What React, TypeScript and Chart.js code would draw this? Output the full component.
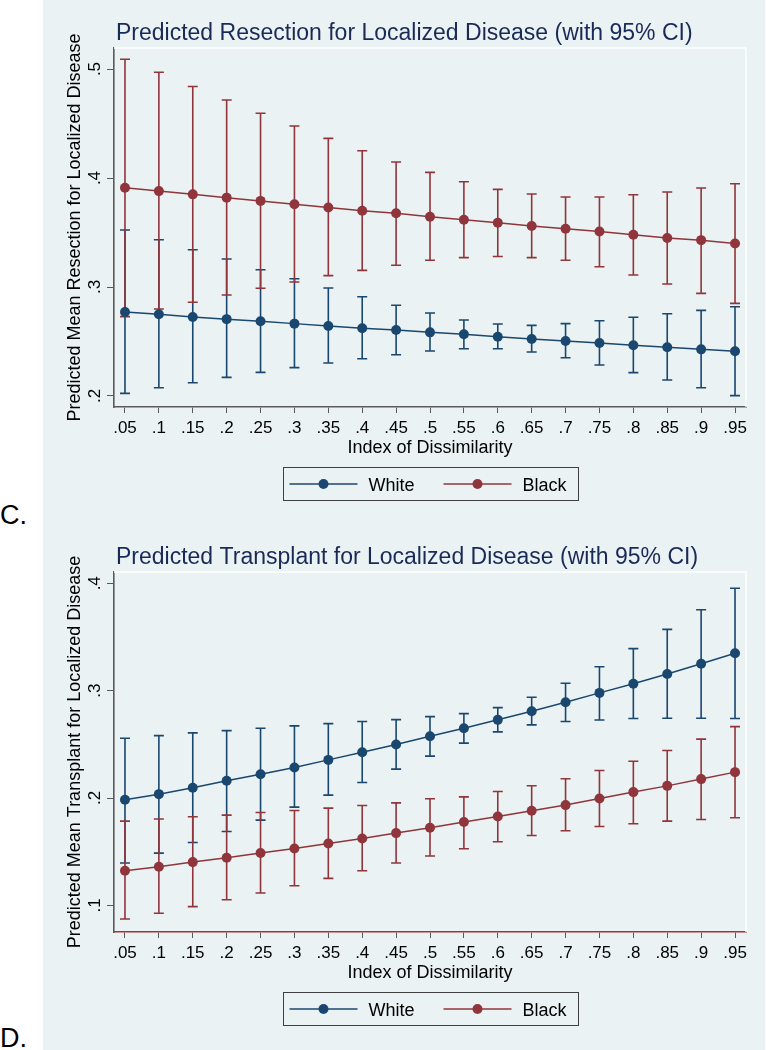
import React, { useEffect, useRef } from "react";
import { Chart, registerables } from "chart.js";

Chart.register(...registerables);

// ---------- shared axis data ----------
const xValues = [0.05, 0.1, 0.15, 0.2, 0.25, 0.3, 0.35, 0.4, 0.45, 0.5, 0.55, 0.6, 0.65, 0.7, 0.75, 0.8, 0.85, 0.9, 0.95];
const xTickLabels = [".05", ".1", ".15", ".2", ".25", ".3", ".35", ".4", ".45", ".5", ".55", ".6", ".65", ".7", ".75", ".8", ".85", ".9", ".95"];
const seriesNames = ["White", "Black"];

// ---------- Panel C: Resection ----------
const resYTicks = [0.2, 0.3, 0.4, 0.5];
const resYTickLabels = [".2", ".3", ".4", ".5"];
const resWhiteMean = [0.277, 0.275, 0.2725, 0.2705, 0.2686, 0.2664, 0.2642, 0.2621, 0.2606, 0.2584, 0.2566, 0.2544, 0.2523, 0.2505, 0.2486, 0.2465, 0.2447, 0.2428, 0.241];
const resWhiteLo = [0.2024, 0.2076, 0.2122, 0.2171, 0.2217, 0.226, 0.2303, 0.2342, 0.2379, 0.2413, 0.2434, 0.2434, 0.2404, 0.2351, 0.2284, 0.2214, 0.2147, 0.2076, 0.2003];
const resWhiteHi = [0.3523, 0.3434, 0.3342, 0.3257, 0.3159, 0.3076, 0.2991, 0.2911, 0.2832, 0.2761, 0.2697, 0.266, 0.2648, 0.2664, 0.2691, 0.2722, 0.2755, 0.2786, 0.2819];
const resBlackMean = [0.391, 0.388, 0.385, 0.382, 0.379, 0.376, 0.373, 0.37, 0.3676, 0.3645, 0.3617, 0.359, 0.356, 0.3535, 0.351, 0.348, 0.345, 0.343, 0.34];
const resBlackLo = [0.2728, 0.2798, 0.286, 0.2927, 0.2988, 0.3046, 0.3104, 0.3153, 0.32, 0.3245, 0.327, 0.328, 0.327, 0.3245, 0.3186, 0.311, 0.3028, 0.2942, 0.285];
const resBlackHi = [0.509, 0.497, 0.484, 0.4716, 0.4594, 0.4477, 0.4364, 0.425, 0.4147, 0.4052, 0.3966, 0.3896, 0.3853, 0.3826, 0.3826, 0.3847, 0.3872, 0.3908, 0.3948];

// ---------- Panel D: Transplant ----------
const txYTicks = [0.1, 0.2, 0.3, 0.4];
const txYTickLabels = [".1", ".2", ".3", ".4"];
const txWhiteMean = [0.1983, 0.2036, 0.2095, 0.216, 0.2222, 0.2284, 0.2355, 0.2427, 0.2498, 0.2576, 0.265, 0.2728, 0.2808, 0.2892, 0.2979, 0.3065, 0.3155, 0.3251, 0.3348];
const txWhiteLo = [0.1394, 0.1487, 0.1586, 0.1688, 0.1794, 0.1915, 0.2027, 0.2144, 0.2269, 0.239, 0.2511, 0.2616, 0.2681, 0.2712, 0.2727, 0.274, 0.2743, 0.2743, 0.274];
const txWhiteHi = [0.2557, 0.2581, 0.2607, 0.2628, 0.265, 0.2672, 0.2693, 0.2712, 0.273, 0.2758, 0.2786, 0.2842, 0.2939, 0.3069, 0.3223, 0.3391, 0.3571, 0.3754, 0.3953];
const txBlackMean = [0.1323, 0.136, 0.1403, 0.1444, 0.1487, 0.153, 0.1577, 0.1623, 0.1673, 0.1723, 0.1776, 0.1828, 0.1881, 0.1934, 0.1995, 0.2055, 0.2113, 0.2176, 0.2241];
const txBlackLo = [0.0873, 0.0926, 0.0988, 0.1053, 0.1115, 0.1183, 0.1251, 0.1323, 0.1394, 0.146, 0.1527, 0.1593, 0.1651, 0.1695, 0.1735, 0.176, 0.1785, 0.18, 0.1816];
const txBlackHi = [0.1785, 0.1804, 0.1825, 0.1841, 0.1865, 0.1884, 0.1906, 0.193, 0.1955, 0.1993, 0.2011, 0.2061, 0.2114, 0.2179, 0.2256, 0.2343, 0.2442, 0.2548, 0.2665];

// ---------- styling ----------
const FONT = "'Liberation Sans', Arial, Helvetica, sans-serif";
const BLUE = "#1a476f";
const RED = "#90353b";
const BG = "#eaf2f3";
const TITLE_COLOR = "#1a2a58";
const AXIS_COLOR = "#5a5a5a";

type PanelCfg = {
  title: string;
  yTitle: string;
  yTicks: number[];
  yTickLabels: string[];
  yMin: number;
  yMax: number;
  whiteMean: number[];
  whiteLo: number[];
  whiteHi: number[];
  blackMean: number[];
  blackLo: number[];
  blackHi: number[];
  padTop: number;
  xAxisHeight: number;
  xBorderColor: string;
};

function makeDecor(cfg: PanelCfg) {
  return {
    id: "stataDecor",
    beforeDatasetsDraw(chart: any) {
      const { ctx, chartArea } = chart;
      const x = chart.scales.x;
      const y = chart.scales.y;
      // white plot frame (top and right)
      ctx.save();
      ctx.strokeStyle = "#ffffff";
      ctx.lineWidth = 1.5;
      ctx.beginPath();
      ctx.moveTo(chartArea.left, chartArea.top);
      ctx.lineTo(chartArea.right, chartArea.top);
      ctx.lineTo(chartArea.right, chartArea.bottom);
      ctx.stroke();
      ctx.restore();
      // error bars (capped spikes)
      const bars = [
        { lo: cfg.whiteLo, hi: cfg.whiteHi, color: BLUE },
        { lo: cfg.blackLo, hi: cfg.blackHi, color: RED },
      ];
      bars.forEach((b) => {
        ctx.save();
        ctx.strokeStyle = b.color;
        ctx.lineWidth = 1.6;
        xValues.forEach((xv, i) => {
          const px = x.getPixelForValue(xv);
          const pl = y.getPixelForValue(b.lo[i]);
          const ph = y.getPixelForValue(b.hi[i]);
          ctx.beginPath();
          ctx.moveTo(px, pl);
          ctx.lineTo(px, ph);
          ctx.moveTo(px - 5, pl);
          ctx.lineTo(px + 5, pl);
          ctx.moveTo(px - 5, ph);
          ctx.lineTo(px + 5, ph);
          ctx.stroke();
        });
        ctx.restore();
      });
    },
    afterDraw(chart: any) {
      const { ctx, chartArea } = chart;
      const x = chart.scales.x;
      const y = chart.scales.y;
      ctx.save();
      // title
      ctx.fillStyle = TITLE_COLOR;
      ctx.font = `23px ${FONT}`;
      ctx.textAlign = "left";
      ctx.textBaseline = "alphabetic";
      ctx.fillText(cfg.title, chartArea.left + 2, chartArea.top - 8.5);

      // x tick labels
      ctx.fillStyle = "#000";
      ctx.font = `17px ${FONT}`;
      ctx.textAlign = "center";
      xValues.forEach((v, i) => {
        ctx.fillText(xTickLabels[i], x.getPixelForValue(v), chartArea.bottom + 26);
      });
      // y tick labels (rotated)
      cfg.yTicks.forEach((v, i) => {
        ctx.save();
        ctx.translate(chartArea.left - 14, y.getPixelForValue(v));
        ctx.rotate(-Math.PI / 2);
        ctx.textAlign = "center";
        ctx.fillText(cfg.yTickLabels[i], 0, 0);
        ctx.restore();
      });
      // axis titles
      ctx.font = `18px ${FONT}`;
      ctx.textAlign = "center";
      ctx.fillText("Index of Dissimilarity", (chartArea.left + chartArea.right) / 2, chartArea.bottom + 46);
      ctx.save();
      ctx.translate(chartArea.left - 34, (chartArea.top + chartArea.bottom) / 2);
      ctx.rotate(-Math.PI / 2);
      ctx.fillText(cfg.yTitle, 0, 0);
      ctx.restore();

      // legend
      const cx = (chartArea.left + chartArea.right) / 2;
      const bx = cx - 147.5;
      const by = chartArea.bottom + 60;
      ctx.strokeStyle = "#404040";
      ctx.lineWidth = 1;
      ctx.strokeRect(Math.round(bx) + 0.5, Math.round(by) + 0.5, 295, 33);
      const items = [
        { name: seriesNames[0], color: BLUE, x0: bx + 7 },
        { name: seriesNames[1], color: RED, x0: bx + 161 },
      ];
      items.forEach((it) => {
        const ly = by + 17;
        ctx.strokeStyle = it.color;
        ctx.lineWidth = 1.5;
        ctx.beginPath();
        ctx.moveTo(it.x0, ly);
        ctx.lineTo(it.x0 + 68, ly);
        ctx.stroke();
        ctx.fillStyle = it.color;
        ctx.beginPath();
        ctx.arc(it.x0 + 34, ly, 5, 0, Math.PI * 2);
        ctx.fill();
        ctx.fillStyle = "#000";
        ctx.font = `18px ${FONT}`;
        ctx.textAlign = "left";
        ctx.fillText(it.name, it.x0 + 79, by + 24);
      });
      ctx.restore();
    },
  };
}

function Panel({ cfg, width, height }: { cfg: PanelCfg; width: number; height: number }) {
  const ref = useRef<HTMLCanvasElement | null>(null);
  useEffect(() => {
    if (!ref.current) return;
    const mk = (mean: number[]) => xValues.map((xv, i) => ({ x: xv, y: mean[i] }));
    const chart = new Chart(ref.current, {
      type: "line",
      data: {
        datasets: [
          {
            label: seriesNames[0],
            data: mk(cfg.whiteMean),
            borderColor: BLUE,
            backgroundColor: BLUE,
            borderWidth: 1.5,
            pointRadius: 5,
            pointBorderWidth: 0,
            pointBackgroundColor: BLUE,
            tension: 0,
          },
          {
            label: seriesNames[1],
            data: mk(cfg.blackMean),
            borderColor: RED,
            backgroundColor: RED,
            borderWidth: 1.5,
            pointRadius: 5,
            pointBorderWidth: 0,
            pointBackgroundColor: RED,
            tension: 0,
          },
        ],
      },
      options: {
        animation: false,
        responsive: false,
        devicePixelRatio: 1,
        layout: { padding: { top: cfg.padTop, right: 20, left: 0, bottom: 0 } },
        plugins: { legend: { display: false }, title: { display: false }, tooltip: { enabled: false } },
        scales: {
          x: {
            type: "linear",
            min: 0.0338,
            max: 0.9662,
            afterBuildTicks: (s: any) => {
              s.ticks = xValues.map((v) => ({ value: v }));
            },
            afterFit: (s: any) => {
              s.height = cfg.xAxisHeight;
            },
            ticks: { display: false },
            grid: { drawOnChartArea: false, drawTicks: true, tickLength: 6, color: AXIS_COLOR, lineWidth: 1 },
            border: { display: true, color: cfg.xBorderColor, width: 1.6 },
          },
          y: {
            type: "linear",
            min: cfg.yMin,
            max: cfg.yMax,
            afterBuildTicks: (s: any) => {
              s.ticks = cfg.yTicks.map((v) => ({ value: v }));
            },
            afterFit: (s: any) => {
              s.width = 71;
            },
            ticks: { display: false },
            grid: { drawOnChartArea: false, drawTicks: true, tickLength: 7, color: AXIS_COLOR, lineWidth: 1 },
            border: { display: true, color: AXIS_COLOR, width: 1.6 },
          },
        },
      } as any,
      plugins: [makeDecor(cfg) as any],
    });
    return () => chart.destroy();
  }, [cfg]);
  return <canvas ref={ref} width={width} height={height} style={{ display: "block", width, height }} />;
}

const panelC: PanelCfg = {
  title: "Predicted Resection for Localized Disease (with 95% CI)",
  yTitle: "Predicted Mean Resection for Localized Disease",
  yTicks: resYTicks,
  yTickLabels: resYTickLabels,
  yMin: 0.1899,
  yMax: 0.5193,
  whiteMean: resWhiteMean,
  whiteLo: resWhiteLo,
  whiteHi: resWhiteHi,
  blackMean: resBlackMean,
  blackLo: resBlackLo,
  blackHi: resBlackHi,
  padTop: 48,
  xAxisHeight: 123,
  xBorderColor: AXIS_COLOR,
};

const panelD: PanelCfg = {
  title: "Predicted Transplant for Localized Disease (with 95% CI)",
  yTitle: "Predicted Mean Transplant for Localized Disease",
  yTicks: txYTicks,
  yTickLabels: txYTickLabels,
  yMin: 0.0752,
  yMax: 0.4105,
  whiteMean: txWhiteMean,
  whiteLo: txWhiteLo,
  whiteHi: txWhiteHi,
  blackMean: txBlackMean,
  blackLo: txBlackLo,
  blackHi: txBlackHi,
  padTop: 42,
  xAxisHeight: 118,
  xBorderColor: "#a8303a",
};

export default function App() {
  const labelStyle: React.CSSProperties = {
    position: "absolute",
    left: 0,
    fontFamily: FONT,
    fontSize: 27,
    lineHeight: "27px",
    color: "#000",
    margin: 0,
  };
  return (
    <div style={{ position: "absolute", left: 0, top: 0, width: 766, height: 1050, background: "#fff", overflow: "hidden" }}>
      <div style={{ position: "absolute", left: 43, top: 0, width: 722, height: 1050, background: BG }} />
      <div style={{ position: "absolute", left: 43, top: 0 }}>
        <Panel cfg={panelC} width={723} height={530} />
      </div>
      <div style={{ position: "absolute", left: 43, top: 530 }}>
        <Panel cfg={panelD} width={723} height={520} />
      </div>
      <div style={{ ...labelStyle, top: 502 }}>C.</div>
      <div style={{ ...labelStyle, top: 1025 }}>D.</div>
    </div>
  );
}
